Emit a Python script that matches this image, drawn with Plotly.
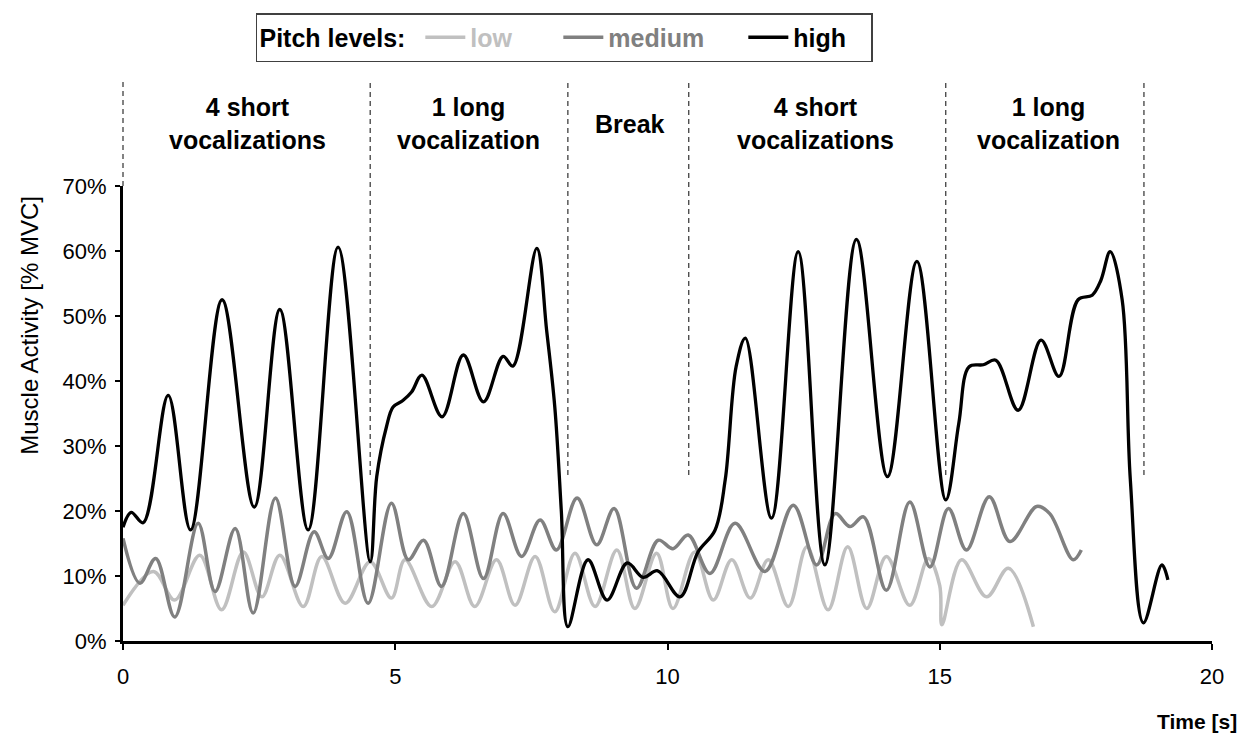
import plotly.graph_objects as go

# ---------------- data ----------------
t_low = [0.0, 0.56, 0.95, 1.41, 1.81, 2.21, 2.55, 2.88, 3.31, 3.65, 4.08, 4.54, 4.93,
         5.18, 5.67, 6.10, 6.46, 6.86, 7.20, 7.57, 7.93, 8.30, 8.67, 9.07, 9.40, 9.80,
         10.10, 10.50, 10.84, 11.18, 11.52, 11.85, 12.22, 12.56, 12.95, 13.31, 13.66,
         14.02, 14.45, 14.79, 15.00, 15.04, 15.40, 15.86, 16.26, 16.72]
v_low = [5.5, 10.7, 6.3, 13.2, 4.8, 13.7, 6.8, 13.2, 5.3, 13.0, 5.8, 12.2, 6.6,
         12.5, 5.3, 12.2, 5.3, 12.5, 5.5, 13.0, 4.5, 13.5, 5.3, 14.0, 5.0, 13.5,
         5.0, 13.7, 6.3, 12.5, 6.6, 12.5, 5.3, 14.5, 4.8, 14.5, 5.0,
         13.0, 5.5, 12.7, 8.5, 2.5, 12.5, 6.8, 11.2, 2.2]

t_med = [0.0, 0.31, 0.60, 0.95, 1.38, 1.69, 2.06, 2.39, 2.80, 3.16, 3.51, 3.77, 4.11,
         4.50, 4.93, 5.24, 5.52, 5.85, 6.25, 6.62, 6.98, 7.32, 7.66, 7.96, 8.34, 8.70,
         9.02, 9.43, 9.83, 10.10, 10.38, 10.78, 11.24, 11.79, 12.31, 12.74, 13.08,
         13.35, 13.60, 14.02, 14.45, 14.82, 15.16, 15.49, 15.91, 16.29, 16.78, 17.02,
         17.45, 17.60]
v_med = [15.8, 8.9, 12.7, 3.7, 18.1, 7.6, 17.3, 4.3, 22.0, 8.4, 16.8, 12.7, 19.9,
         5.8, 21.2, 12.5, 15.5, 8.4, 19.6, 9.6, 19.6, 13.0, 18.6, 14.0, 22.0, 14.8,
         20.4, 8.1, 15.5, 14.2, 16.3, 10.4, 18.1, 10.7, 20.9, 11.7, 19.6,
         17.6, 19.1, 7.8, 21.4, 11.4, 20.4, 14.0, 22.2, 15.3, 20.7, 19.6,
         12.5, 14.0]

t_high = [0.0, 0.15, 0.37, 0.83, 1.24, 1.82, 2.41, 2.88, 3.40, 3.95, 4.54, 4.66, 4.84,
          4.96, 5.14, 5.30, 5.49, 5.86, 6.25, 6.62, 6.98, 7.16, 7.60, 7.78, 7.93, 8.05,
          8.17, 8.54, 8.89, 9.26, 9.55, 9.82, 10.23, 10.56, 10.87, 11.06, 11.26, 11.43,
          11.91, 12.40, 12.89, 13.47, 14.04, 14.58, 15.11, 15.35, 15.54, 15.80, 16.03,
          16.44, 16.86, 17.19, 17.54, 17.80, 17.96, 18.13, 18.35, 18.50, 18.74, 19.08,
          19.19]
v_high = [17.5, 19.8, 18.2, 37.8, 17.1, 52.5, 20.6, 51.0, 17.1, 60.6, 12.2, 25.3, 33.0,
          36.0, 37.0, 38.3, 40.9, 34.5, 44.0, 36.8, 43.8, 42.3, 60.4, 47.8, 36.0, 20.0,
          2.2, 12.5, 6.3, 12.0, 9.8, 10.8, 6.8, 13.7, 17.0, 24.8, 42.2, 46.6,
          18.9, 59.9, 11.7, 61.8, 25.3, 58.4, 21.7, 33.5, 42.2, 42.5, 43.2,
          35.5, 46.3, 40.7, 52.5, 53.2, 55.5, 59.9, 52.5, 24.8, 2.8, 11.7,
          9.4]

section_bounds = [0.0, 4.54, 8.17, 10.39, 15.11, 18.75]
section_centers = [2.28, 6.34, 9.31, 12.71, 16.99]
section_labels = ["4 short<br>vocalizations", "1 long<br>vocalization", "Break",
                  "4 short<br>vocalizations", "1 long<br>vocalization"]

x_range = [0, 20]
x_ticks = [0, 5, 10, 15, 20]
y_ticks = [0, 10, 20, 30, 40, 50, 60, 70]
y_ticktext = [f"{v}%" for v in y_ticks]

FONT = "Liberation Sans, Arial, sans-serif"

fig = go.Figure()

series = [
    ("low", t_low, v_low, "#c0c0c0", 3.5, 83),
    ("medium", t_med, v_med, "#808080", 3.5, 130),
    ("high", t_high, v_high, "#000000", 3.3, 73),
]
for name, xs, ys, col, w, lw in series:
    fig.add_trace(go.Scatter(
        x=xs, y=ys, mode="lines",
        line=dict(color=col, width=w, shape="spline", smoothing=1.0),
        name=f"<b><span style='color:{col}'>{name}</span></b>",
        legendwidth=lw,
        hoverinfo="skip",
    ))

# dashed section separators
span = x_range[1] - x_range[0]
for i, b in enumerate(section_bounds):
    xp = (b - x_range[0]) / span
    fig.add_shape(type="line", xref="paper", yref="paper",
                  x0=xp, x1=xp, y0=(1.0 if i == 0 else 0.365), y1=1.233,
                  line=dict(color="#404040", width=1.3, dash="5px,4px"))

for c, lab in zip(section_centers, section_labels):
    fig.add_annotation(x=c, y=1.137, xref="x", yref="paper", text=f"<b>{lab}</b>",
                       showarrow=False, xanchor="center", yanchor="middle",
                       font=dict(family=FONT, size=25, color="black"))

fig.add_annotation(x=-0.0854, y=0.695, xref="paper", yref="paper",
                   text="Muscle Activity [% MVC]", textangle=-90, showarrow=False,
                   xanchor="center", yanchor="middle",
                   font=dict(family=FONT, size=24, color="black"))
fig.add_annotation(x=1.0245, y=-0.178, xref="paper", yref="paper",
                   text="<b>Time [s]</b>", showarrow=False,
                   xanchor="right", yanchor="middle",
                   font=dict(family=FONT, size=21, color="black"))

fig.update_layout(
    width=1241, height=736,
    margin=dict(l=123, r=29, t=186, b=95, autoexpand=False),
    paper_bgcolor="white", plot_bgcolor="white",
    font=dict(family=FONT, size=22, color="black"),
    showlegend=True,
    legend=dict(orientation="h", x=0.1221, y=1.3802, xanchor="left", yanchor="top",
                bordercolor="#404040", borderwidth=1.5, bgcolor="white",
                itemwidth=40, traceorder="normal",
                title=dict(text="<b>Pitch levels:</b>\u00a0", side="left",
                           font=dict(family=FONT, size=25, color="black")),
                font=dict(family=FONT, size=25, color="black")),
    xaxis=dict(range=x_range, tickvals=x_ticks, showgrid=False, zeroline=False,
               showline=True, linecolor="black", linewidth=3,
               ticks="outside", ticklen=6, tickwidth=2, tickcolor="black",
               ticklabelstandoff=8, automargin=False,
               tickfont=dict(family=FONT, size=22, color="black")),
    yaxis=dict(range=[0, 70], tickvals=y_ticks, ticktext=y_ticktext, showgrid=False,
               zeroline=False, showline=True, linecolor="black", linewidth=3,
               ticks="outside", ticklen=5, tickwidth=2, tickcolor="black",
               ticklabelstandoff=4, automargin=False,
               tickfont=dict(family=FONT, size=22, color="black")),
)

fig.write_html("out.html", config={"displayModeBar": False},
               post_script="document.body.style.margin='0';")
